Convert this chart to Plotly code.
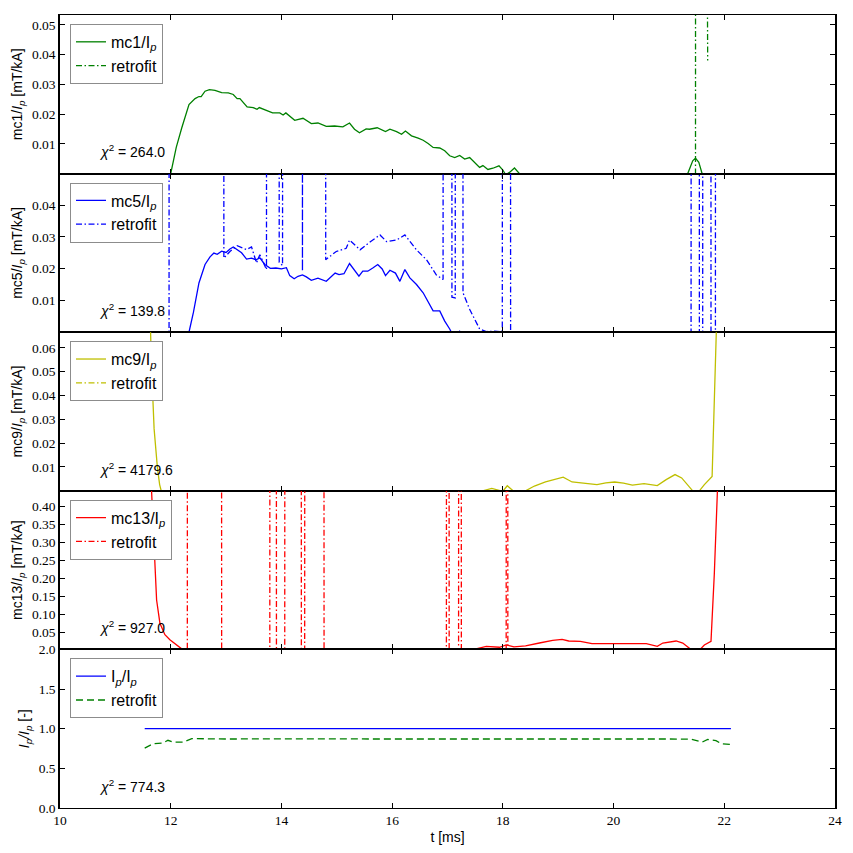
import plotly.graph_objects as go
from plotly.subplots import make_subplots

# ---------------- data ----------------
mc1_t = [11.53, 11.95, 12.0, 12.1, 12.2, 12.26, 12.33, 12.44, 12.51, 12.55, 12.62, 12.7, 12.8, 12.92,
         13.04, 13.13, 13.2, 13.25, 13.31, 13.38, 13.49, 13.56, 13.6, 13.73, 13.84, 13.97, 14.03, 14.08,
         14.24, 14.39, 14.54, 14.66, 14.81, 14.96, 15.11, 15.23, 15.32, 15.41, 15.53, 15.59, 15.73, 15.88,
         15.96, 16.08, 16.17, 16.24, 16.35, 16.47, 16.56, 16.65, 16.74, 16.86, 16.95, 17.04, 17.13, 17.22,
         17.31, 17.4, 17.49, 17.58, 17.64, 17.73, 17.82, 17.93, 18.0, 18.05, 18.12, 18.21, 18.3, 18.6,
         20.0, 21.2, 21.34, 21.43, 21.48, 21.54, 21.6, 21.8, 22.12]
mc1_v = [-0.004, -0.001, 0.0, 0.0088, 0.0154, 0.0188, 0.0232, 0.0252, 0.0259, 0.0259, 0.0277, 0.0282, 0.028, 0.0272,
         0.0271, 0.0266, 0.0252, 0.0252, 0.0238, 0.0224, 0.0222, 0.0216, 0.0222, 0.0212, 0.0204, 0.0204, 0.0197, 0.0204,
         0.0179, 0.0186, 0.0168, 0.017, 0.0159, 0.016, 0.0157, 0.017, 0.0149, 0.0137, 0.015, 0.0149, 0.0154, 0.0141,
         0.0149, 0.0141, 0.0132, 0.0143, 0.0127, 0.0119, 0.0112, 0.0101, 0.0088, 0.0086, 0.0077, 0.006, 0.0054, 0.0061,
         0.0049, 0.0054, 0.0038, 0.0021, 0.0027, 0.0014, 0.0018, 0.0026, 0.0012, -0.0004, 0.0004, 0.0019, 0.0, -0.002,
         -0.003, -0.002, 0.0, 0.0043, 0.0052, 0.0038, 0.0, -0.005, -0.01]
mc1_fit_t = [11.53, 21.47, 21.49, 21.68, 21.70]
mc1_fit_v = [-1.0, -1.0, 1.0, 1.0, 0.038]

mc5_t = [11.53, 12.2, 12.33, 12.41, 12.51, 12.62, 12.71, 12.78, 12.84, 12.92, 13.0, 13.07, 13.13, 13.2, 13.28,
         13.37, 13.46, 13.54, 13.61, 13.7, 13.8, 13.9, 14.0, 14.09, 14.15, 14.23, 14.3, 14.38, 14.45, 14.54,
         14.66, 14.81, 14.91, 14.97, 15.04, 15.13, 15.23, 15.3, 15.4, 15.47, 15.56, 15.65, 15.74, 15.82, 15.88,
         15.96, 16.06, 16.14, 16.23, 16.32, 16.44, 16.56, 16.65, 16.74, 16.86, 16.95, 17.04, 17.07, 17.15,
         17.22, 17.3, 18.0, 20.0, 22.12]
mc5_v = [-0.015, -0.004, 0.0, 0.0062, 0.0155, 0.0213, 0.0237, 0.0249, 0.0245, 0.0255, 0.0251, 0.0262, 0.0268, 0.026, 0.025,
         0.023, 0.0233, 0.0228, 0.0234, 0.0213, 0.0201, 0.0202, 0.0199, 0.0203, 0.0178, 0.0168, 0.0176, 0.018, 0.0174, 0.0163,
         0.017, 0.016, 0.0178, 0.0186, 0.0181, 0.0184, 0.0216, 0.0199, 0.0176, 0.0192, 0.0192, 0.0202, 0.0213, 0.0199, 0.0178,
         0.0195, 0.0186, 0.016, 0.0197, 0.0171, 0.015, 0.0124, 0.0093, 0.0067, 0.0067, 0.0035, 0.001, 0.0, -0.001,
         0.0003, -0.001, -0.002, -0.003, -0.005]
mc5_fit_t = [11.53, 11.96, 11.98, 12.95, 12.96, 13.07, 13.20, 13.37, 13.46, 13.55, 13.61, 13.73, 13.75,
             13.95, 13.96, 14.02, 14.04, 14.37, 14.38, 14.39, 14.79, 14.80, 14.99, 15.17, 15.23, 15.42, 15.60,
             15.78, 15.90, 16.08, 16.23, 16.32, 16.44, 16.62, 16.80, 16.92, 16.94, 17.07, 17.08, 17.14, 17.15,
             17.27, 17.28, 17.40, 17.58, 17.70, 17.85, 17.99, 18.01, 18.12, 18.14, 19.15, 19.30, 19.60, 19.90,
             20.30, 20.70, 21.10, 21.30, 21.40, 21.42, 21.54, 21.56, 21.60, 21.62, 21.75, 21.77, 21.83, 21.85, 22.12]
mc5_fit_v = [-1.0, -1.0, 1.0, 1.0, 0.0233, 0.0254, 0.0272, 0.026, 0.0268, 0.0218, 0.0244, 0.0197, 1.0,
             1.0, 0.022, 0.021, 1.0, 1.0, 0.0192, 1.0, 1.0, 0.0228, 0.0254, 0.0264, 0.029, 0.0259, 0.0284,
             0.0306, 0.0285, 0.029, 0.0306, 0.0285, 0.0259, 0.0228, 0.018, 0.0166, 1.0, 1.0, 0.011, 0.0108, 1.0,
             1.0, 0.0124, 0.0072, 0.001, 0.0002, 0.0003, 0.0001, 1.0, 1.0, -0.0005, -0.0003, 0.0002, 0.0001, 0.0002,
             0.0001, 0.0002, 0.0001, 0.0002, 0.0002, 1.0, 1.0, -1.0, -1.0, 1.0, 1.0, -1.0, -1.0, 1.0, 1.0]

mc9_t = [11.53, 11.60, 11.65, 11.70, 11.76, 11.80, 11.85, 12.5, 17.0, 17.6, 17.8, 18.0, 18.08, 18.2, 18.41,
         18.57, 18.77, 18.93, 19.09, 19.25, 19.45, 19.70, 19.86, 20.02, 20.18, 20.34, 20.55, 20.79, 20.95,
         21.11, 21.23, 21.31, 21.43, 21.55, 21.64, 21.78, 21.86, 22.0]
mc9_v = [0.2, 0.1, 0.054, 0.026, 0.0096, 0.0026, -0.002, -0.004, -0.002, -0.0002, 0.001, -0.0002, 0.0021, -0.0003, 0.0,
         0.002, 0.0037, 0.0047, 0.0057, 0.0037, 0.0033, 0.0026, 0.0033, 0.0037, 0.0032, 0.0024, 0.003, 0.0022, 0.0047,
         0.0068, 0.0054, 0.0033, 0.0, 0.0, 0.0026, 0.006, 0.07, 0.2]
mc9_fit_t = [11.53, 22.12]
mc9_fit_v = [-1.0, -1.0]

mc13_t = [11.53, 11.60, 11.655, 11.70, 11.745, 11.805, 11.895, 11.985, 12.107, 12.215, 12.3, 17.3, 17.46,
          17.7, 17.94, 18.06, 18.2, 18.41, 18.66, 18.78, 18.9, 19.07, 19.19, 19.4, 19.61, 19.87, 20.11, 20.29,
          20.59, 20.79, 20.89, 21.13, 21.25, 21.4, 21.47, 21.55, 21.64, 21.76, 21.82, 21.88, 22.0]
mc13_v = [1.5, 0.7, 0.44, 0.268, 0.1395, 0.075, 0.043, 0.029, 0.0152, 0.0014, -0.005, -0.005, 0.0014,
          0.0106, 0.008, 0.0145, 0.0089, 0.012, 0.0198, 0.0235, 0.0272, 0.03, 0.0254, 0.0244, 0.018, 0.018, 0.018, 0.016,
          0.018, 0.0106, 0.0198, 0.0254, 0.0198, 0.0014, -0.003, 0.0, 0.0143, 0.0244, 0.213, 0.46, 1.0]
mc13_fit_t = [11.53, 12.29, 12.31, 12.91, 12.93, 13.78, 13.80, 13.90, 13.92, 14.05, 14.07, 14.35, 14.37, 14.41,
              14.43, 14.76, 14.78, 16.97, 16.99, 17.02, 17.04, 17.19, 17.21, 17.24, 17.26, 18.05, 18.07, 18.08,
              18.10, 22.12]
mc13_fit_v = [-5, -5, 5, 5, -5, -5, 5, 5, -5, -5, 5, 5, -5, -5,
              5, 5, -5, -5, 5, 5, -5, -5, 5, 5, -5, -5, 5, 5,
              -5, -5]

ip_t = [11.53, 22.12]
ip_v = [1.0, 1.0]
ip_fit_t = [11.53, 11.68, 11.86, 11.95, 12.05, 12.23, 12.38, 13.0, 14.0, 15.0, 16.0, 17.0, 18.0, 19.0,
            20.0, 21.0, 21.4, 21.6, 21.7, 21.85, 21.95, 22.12]
ip_fit_v = [0.755, 0.81, 0.82, 0.854, 0.83, 0.83, 0.875, 0.87, 0.872, 0.868, 0.87, 0.87, 0.872, 0.868,
            0.87, 0.87, 0.868, 0.83, 0.865, 0.85, 0.81, 0.8]

chi2 = ["264.0", "139.8", "4179.6", "927.0", "774.3"]
names = ["mc1/I<sub><i>p</i></sub>", "mc5/I<sub><i>p</i></sub>", "mc9/I<sub><i>p</i></sub>",
         "mc13/I<sub><i>p</i></sub>", "I<sub><i>p</i></sub>/I<sub><i>p</i></sub>"]
ylabels = ["mc1/<i>I<sub>p</sub></i> [mT/kA]", "mc5/<i>I<sub>p</sub></i> [mT/kA]",
           "mc9/<i>I<sub>p</sub></i> [mT/kA]", "mc13/<i>I<sub>p</sub></i> [mT/kA]",
           "<i>I<sub>p</sub>/I<sub>p</sub></i> [-]"]
yranges = [[0, 0.0533], [0, 0.0499], [0, 0.0666], [0.002, 0.444], [0, 2.0]]
ytickvals = [[0.01, 0.02, 0.03, 0.04, 0.05],
             [0.01, 0.02, 0.03, 0.04],
             [0.01, 0.02, 0.03, 0.04, 0.05, 0.06],
             [0.05, 0.10, 0.15, 0.20, 0.25, 0.30, 0.35, 0.40],
             [0.0, 0.5, 1.0, 1.5, 2.0]]
ytickfmt = [".2f", ".2f", ".2f", ".2f", ".1f"]
xticks = [10, 12, 14, 16, 18, 20, 22, 24]

colors = ["#008000", "#0000ff", "#bfbf00", "#ff0000", "#0000ff"]
fit_colors = ["#008000", "#0000ff", "#bfbf00", "#ff0000", "#008000"]
series = [(mc1_t, mc1_v, mc1_fit_t, mc1_fit_v),
          (mc5_t, mc5_v, mc5_fit_t, mc5_fit_v),
          (mc9_t, mc9_v, mc9_fit_t, mc9_fit_v),
          (mc13_t, mc13_v, mc13_fit_t, mc13_fit_v),
          (ip_t, ip_v, ip_fit_t, ip_fit_v)]

SERIF = "'Liberation Serif', 'DejaVu Serif', serif"
SANS = "'Liberation Sans', 'DejaVu Sans', Arial, sans-serif"

fig = make_subplots(rows=5, cols=1, shared_xaxes=True, vertical_spacing=0)

W, H = 853, 853
ML, MR, MT, MB = 60, 18, 8, 45
PW, PH = W - ML - MR, H - MT - MB
ph = PH / 5.0

for i, (t, v, ft, fv) in enumerate(series):
    leg = "legend" if i == 0 else "legend%d" % (i + 1)
    fig.add_trace(go.Scatter(x=t, y=v, mode="lines", name=names[i], legend=leg,
                             line=dict(color=colors[i], width=1.3)), row=i + 1, col=1)
    dash = "7px,4px" if i == 4 else "6px,2.5px,1.5px,2.5px"
    fig.add_trace(go.Scatter(x=ft, y=fv, mode="lines", name="retrofit", legend=leg,
                             line=dict(color=fit_colors[i], width=1.3, dash=dash)), row=i + 1, col=1)
    top_off = i * ph + 9
    fig.update_layout({leg: dict(x=10 / PW, y=1 - top_off / PH, xanchor="left", yanchor="top",
                                 xref="paper", yref="paper",
                                 bgcolor="white", bordercolor="#8c8c8c", borderwidth=1,
                                 font=dict(family=SANS, size=16, color="black"),
                                 tracegroupgap=0, itemwidth=30)})
    fig.update_yaxes(row=i + 1, col=1, range=yranges[i], tickvals=ytickvals[i],
                     ticktext=[format(tv, ytickfmt[i]) for tv in ytickvals[i]],
                     ticks="inside", ticklen=5, tickwidth=1, tickcolor="black",
                     showline=True, linecolor="black", linewidth=1.5, mirror="ticks",
                     showgrid=False, zeroline=False,
                     tickfont=dict(family=SERIF, size=13.5, color="black"),
                     title=dict(text=ylabels[i], font=dict(family=SANS, size=14, color="black"), standoff=6))
    fig.update_xaxes(row=i + 1, col=1, range=[10, 24], tickvals=xticks,
                     ticks="inside", ticklen=5, tickwidth=1, tickcolor="black",
                     showline=True, linecolor="black", linewidth=1, mirror="ticks",
                     showgrid=False, zeroline=False,
                     tickfont=dict(family=SERIF, size=13.5, color="black"))
    xr = "x domain" if i == 0 else "x%d domain" % (i + 1)
    yr = "y domain" if i == 0 else "y%d domain" % (i + 1)
    fig.add_annotation(text="<i>χ</i><sup>2</sup> = " + chi2[i], xref=xr, yref=yr,
                       x=0.048, y=0.14, xanchor="left", yanchor="middle", showarrow=False,
                       font=dict(family=SANS, size=14, color="black"))

fig.update_xaxes(row=5, col=1, title=dict(text="t [ms]", font=dict(family=SANS, size=14, color="black"),
                                          standoff=4))

fig.update_layout(width=W, height=H, margin=dict(l=ML, r=MR, t=MT, b=MB),
                  plot_bgcolor="white", paper_bgcolor="white", showlegend=True)

fig.write_html("out.html")
